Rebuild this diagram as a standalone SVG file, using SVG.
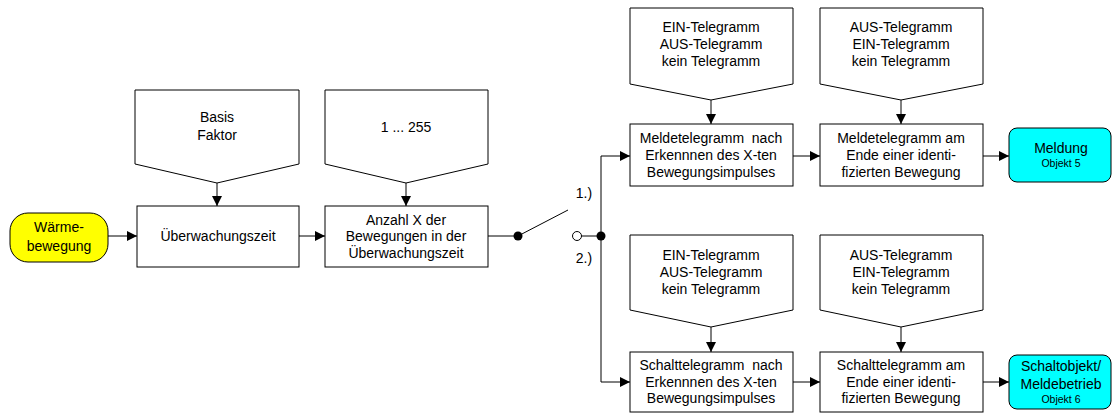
<svg xmlns="http://www.w3.org/2000/svg" width="1112" height="413" viewBox="0 0 1112 413">
<defs>
<marker id="ah" markerWidth="10" markerHeight="10" refX="10" refY="5" orient="auto" markerUnits="userSpaceOnUse">
<path d="M0,0 L10,5 L0,10 Z" fill="#000"/>
</marker>
<style>
.shape{fill:#fff;stroke:#000;stroke-width:1}
.t{font-family:"Liberation Sans",Arial,sans-serif;font-size:14px;fill:#000;text-anchor:middle;white-space:pre}
.s{font-family:"Liberation Sans",Arial,sans-serif;font-size:10.5px;fill:#000;text-anchor:middle}
.c{fill:none;stroke:#000;stroke-width:1}
.ca{fill:none;stroke:#000;stroke-width:1;marker-end:url(#ah)}
</style>
</defs>
<rect width="1112" height="413" fill="#fff"/>
<g id="waerme">
<rect x="10" y="213" width="98" height="49" rx="18" fill="#ffff00" stroke="#000" stroke-width="1"/>
<text class="t" x="59" y="232">Wärme-</text>
<text class="t" x="59" y="251">bewegung</text>
</g>
<g id="basis">
<polygon class="shape" points="135,90 299,90 299,164 217,183 135,164"/>
<text class="t" x="217" y="122">Basis</text>
<text class="t" x="217" y="140">Faktor</text>
</g>
<g id="ueberwachung">
<rect class="shape" x="137" y="206" width="162" height="61"/>
<text class="t" x="218" y="241">Überwachungszeit</text>
</g>
<g id="range">
<polygon class="shape" points="325,90 488,90 488,164 406,183 325,164"/>
<text class="t" x="406" y="132">1 ... 255</text>
</g>
<g id="anzahl">
<rect class="shape" x="325" y="206" width="163" height="61"/>
<text class="t" x="406" y="225">Anzahl X der</text>
<text class="t" x="406" y="241">Bewegungen in der</text>
<text class="t" x="406" y="258">Überwachungszeit</text>
</g>
<g id="switch">
<circle cx="518" cy="236" r="4.5" fill="#000"/>
<circle cx="577" cy="236" r="4.5" fill="#fff" stroke="#000" stroke-width="1"/>
<circle cx="601" cy="236" r="4.5" fill="#000"/>
<text class="t" x="584" y="198">1.)</text>
<text class="t" x="584" y="263">2.)</text>
</g>
<g id="opt1a">
<polygon class="shape" points="630,8 793,8 793,84 711,100 630,84"/>
<text class="t" x="711" y="32">EIN-Telegramm</text>
<text class="t" x="711" y="49">AUS-Telegramm</text>
<text class="t" x="711" y="66">kein Telegramm</text>
</g>
<g id="opt1b">
<polygon class="shape" points="820,8 983,8 983,84 901,100 820,84"/>
<text class="t" x="901" y="32">AUS-Telegramm</text>
<text class="t" x="901" y="49">EIN-Telegramm</text>
<text class="t" x="901" y="66">kein Telegramm</text>
</g>
<g id="melde1">
<rect class="shape" x="630" y="124" width="163" height="62"/>
<text class="t" x="711" y="143">Meldetelegramm  nach</text>
<text class="t" x="711" y="160">Erkennnen des X-ten</text>
<text class="t" x="711" y="177">Bewegungsimpulses</text>
</g>
<g id="melde2">
<rect class="shape" x="820" y="124" width="163" height="62"/>
<text class="t" x="901" y="143">Meldetelegramm am</text>
<text class="t" x="901" y="160">Ende einer identi-</text>
<text class="t" x="901" y="177">fizierten Bewegung</text>
</g>
<g id="meldung">
<rect x="1009" y="128" width="102" height="54" rx="8" fill="#00ffff" stroke="#000" stroke-width="1"/>
<text class="t" x="1061" y="153">Meldung</text>
<text class="s" x="1061" y="167">Objekt 5</text>
</g>
<g id="opt2a">
<polygon class="shape" points="630,235 793,235 793,310 711,327 630,310"/>
<text class="t" x="711" y="260">EIN-Telegramm</text>
<text class="t" x="711" y="277">AUS-Telegramm</text>
<text class="t" x="711" y="294">kein Telegramm</text>
</g>
<g id="opt2b">
<polygon class="shape" points="820,235 983,235 983,310 901,327 820,310"/>
<text class="t" x="901" y="260">AUS-Telegramm</text>
<text class="t" x="901" y="277">EIN-Telegramm</text>
<text class="t" x="901" y="294">kein Telegramm</text>
</g>
<g id="schalt1">
<rect class="shape" x="630" y="352" width="163" height="60"/>
<text class="t" x="711" y="370">Schalttelegramm  nach</text>
<text class="t" x="711" y="387">Erkennnen des X-ten</text>
<text class="t" x="711" y="403">Bewegungsimpulses</text>
</g>
<g id="schalt2">
<rect class="shape" x="820" y="352" width="163" height="60"/>
<text class="t" x="901" y="370">Schalttelegramm am</text>
<text class="t" x="901" y="387">Ende einer identi-</text>
<text class="t" x="901" y="403">fizierten Bewegung</text>
</g>
<g id="schaltobjekt">
<rect x="1009" y="355" width="102" height="54" rx="8" fill="#00ffff" stroke="#000" stroke-width="1"/>
<text class="t" x="1061" y="371">Schaltobjekt/</text>
<text class="t" x="1061" y="389">Meldebetrieb</text>
<text class="s" x="1061" y="403">Objekt 6</text>
</g>
<g id="connectors">
<line class="ca" x1="108" y1="236" x2="137" y2="236"/>
<line class="ca" x1="217" y1="183" x2="217" y2="206"/>
<line class="ca" x1="299" y1="236" x2="325" y2="236"/>
<line class="ca" x1="406" y1="183" x2="406" y2="206"/>
<line class="c" x1="488" y1="236" x2="518" y2="236"/>
<line class="c" x1="518" y1="236" x2="568" y2="210"/>
<line class="c" x1="581.5" y1="236" x2="601" y2="236"/>
<polyline class="ca" points="601,236 601,156 630,156"/>
<polyline class="ca" points="601,236 601,382 630,382"/>
<line class="ca" x1="711" y1="100" x2="711" y2="124"/>
<line class="ca" x1="901" y1="100" x2="901" y2="124"/>
<line class="ca" x1="793" y1="156" x2="820" y2="156"/>
<line class="ca" x1="983" y1="156" x2="1009" y2="156"/>
<line class="ca" x1="711" y1="327" x2="711" y2="352"/>
<line class="ca" x1="901" y1="327" x2="901" y2="352"/>
<line class="ca" x1="793" y1="382" x2="820" y2="382"/>
<line class="ca" x1="983" y1="382" x2="1009" y2="382"/>
</g>
</svg>
